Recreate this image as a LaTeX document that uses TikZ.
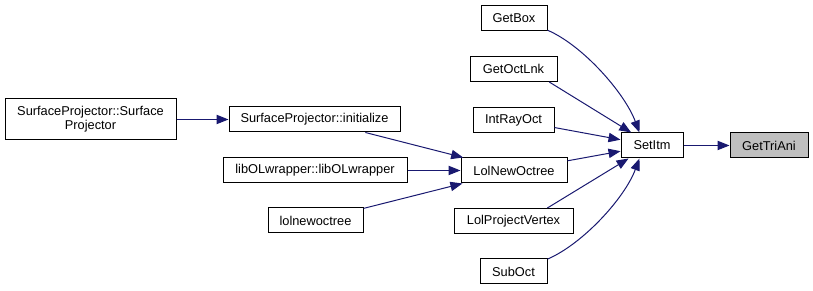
\documentclass[tikz,border=0pt]{standalone}
\usepackage{fontspec}
\setmainfont{Liberation Sans}
\usetikzlibrary{arrows.meta}

\definecolor{edgeblue}{HTML}{191970}
\definecolor{nodegray}{HTML}{BFBFBF}

\tikzset{
  fn/.style={draw=black, fill=white, line width=0.75pt, minimum height=18.75pt,
    inner sep=2pt, font=\fontsize{9.6}{10.5}\selectfont},
  call/.style={draw=edgeblue, line width=0.75pt, -{Triangle[length=9pt,width=7pt]}}
}

\begin{document}
\begin{tikzpicture}[x=0.75pt,y=0.75pt]
        \useasboundingbox (0,0) rectangle (813,291);

        \node[fn, fill=nodegray, minimum width=58.5pt] (gettriani) at (769,145.5) {GetTriAni};
        \node[fn, minimum width=46.5pt] (setitm) at (652,145.5) {SetItm};

        % callers of SetItm
        \node[fn, minimum width=49.5pt] (getbox) at (514,273) {GetBox};
        \node[fn, minimum width=65.25pt] (getoctlnk) at (513.5,222) {GetOctLnk};
        \node[fn, minimum width=60.75pt] (intrayoct) at (513.5,171) {IntRayOct};
        \node[fn, minimum width=79.5pt] (lolnewoctree) at (514,120.5) {LolNewOctree};
        \node[fn, minimum width=89.25pt] (lolprojvertex) at (513.5,70) {LolProjectVertex};
        \node[fn, minimum width=50.25pt] (suboct) at (513.5,19.5) {SubOct};

        % callers of LolNewOctree
        \node[fn, minimum width=128.25pt] (spinit) at (314.5,171.5) {SurfaceProjector::initialize};
        \node[fn, minimum width=138pt] (olwrapper) at (315,120.5) {libOLwrapper::libOLwrapper};
        \node[fn, minimum width=71.25pt] (lolnewoctlow) at (315.5,70.5) {lolnewoctree};

        \node[fn, minimum width=128.25pt, minimum height=30.75pt, align=center] (spctor) at (90.5,171.5) {SurfaceProjector::Surface\\Projector};

        \draw[call] (setitm) -- (gettriani);
        \draw[call] (getbox.-20) .. controls +(35,-15) and +(-15,40) .. (setitm.134);
        \draw[call] (getoctlnk.-20) -- (setitm.148);
        \draw[call] (intrayoct) -- (setitm);
        \draw[call] (lolnewoctree) -- (setitm);
        \draw[call] (lolprojvertex.21) -- (setitm.-151);
        \draw[call] (suboct.20) .. controls +(35,15) and +(-15,-40) .. (setitm.-134);

        \draw[call] (spctor) -- (spinit);
        \draw[call] (spinit) -- (lolnewoctree);
        \draw[call] (olwrapper) -- (lolnewoctree);
        \draw[call] (lolnewoctlow) -- (lolnewoctree);
\end{tikzpicture}
\end{document}
